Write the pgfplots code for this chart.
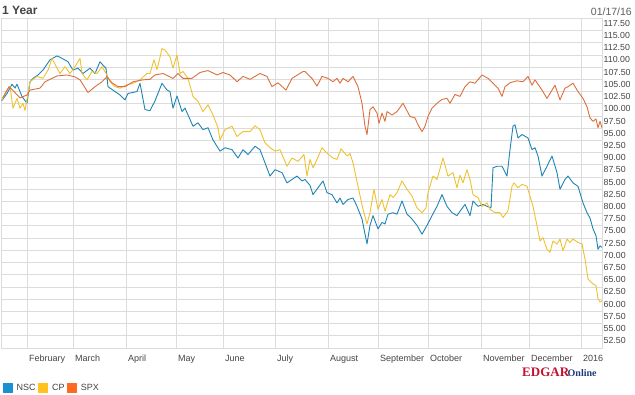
\documentclass[border=0pt]{standalone}
\usepackage{fontspec}
\setmainfont{Liberation Sans}
\newfontfamily\logofont{Liberation Serif}
\usepackage{pgfplots}
\pgfplotsset{compat=1.18}
\definecolor{nsc}{HTML}{1E85B5}
\definecolor{cp}{HTML}{F0C12E}
\definecolor{spx}{HTML}{DC6E3C}
\definecolor{nscsq}{HTML}{1A8FD1}
\definecolor{cpsq}{HTML}{FFC21E}
\definecolor{spxsq}{HTML}{FF6A22}
\definecolor{gridgray}{HTML}{DCDCDC}
\definecolor{txtgray}{HTML}{444444}
\definecolor{edgarred}{HTML}{C41230}
\definecolor{edgarblue}{HTML}{1D3C78}
\begin{document}
\begin{tikzpicture}
\useasboundingbox (0pt,0pt) rectangle (635pt,395pt);
\fill[white] (0pt,0pt) rectangle (635pt,395pt);
\node[anchor=base west, inner sep=0pt, text=txtgray, font=\bfseries\fontsize{12}{12}\selectfont] at (2pt,380pt) {1 Year};
\node[anchor=base east, inner sep=0pt, text=txtgray!85, font=\fontsize{10.5}{10.5}\selectfont] at (632pt,379pt) {01/17/16};
\node[anchor=base west, inner sep=0pt, text=edgarred, font=\logofont\bfseries\fontsize{13}{13}\selectfont] at (522pt,18pt) {EDGAR};
\node[anchor=base west, inner sep=0pt, text=edgarblue, font=\logofont\bfseries\fontsize{10}{10}\selectfont] at (567.5pt,18pt) {Online};
\begin{axis}[
  at={(1.5pt,47pt)}, anchor=south west,
  scale only axis, width=600.5pt, height=329.7pt,
  xmin=1.5, xmax=602, ymin=50, ymax=117.5,
  axis line style={draw=gridgray, line width=0.8pt},
  grid=major, major grid style={draw=gridgray, line width=0.8pt},
  major tick length=0pt,
  xtick={27,73,126,176,223,275,328,378,428,481,529,581},
  xticklabels={February,March,April,May,June,July,August,September,October,November,December,2016},
  xticklabel style={anchor=base west, inner sep=0pt, xshift=2pt, yshift=-14pt, text=txtgray, font=\fontsize{9}{9}\selectfont},
  ytick={52.5,55,...,117.5},
  yticklabel pos=right,
  yticklabel style={anchor=west, inner sep=0pt, xshift=1.5pt, yshift=-5pt, text=txtgray, font=\fontsize{8.8}{9}\selectfont,
    /pgf/number format/.cd, fixed, fixed zerofill, precision=2, assume math mode=true},
  legend columns=-1,
  legend style={at={(0,0)}, anchor=north west, xshift=1.2pt, yshift=-35pt, draw=none, fill=none,
    inner sep=0pt, outer sep=0pt, font=\fontsize{9}{9}\selectfont\color{txtgray},
    nodes={inner xsep=2.5pt, inner ysep=0pt},
    /tikz/every odd column/.append style={column sep=1.5pt}},
  every axis plot/.append style={line width=0.9pt, line join=round},
]
\addplot[nsc, legend image code/.code={\fill[nscsq] (0pt,-4.5pt) rectangle (9pt,4.5pt);}] coordinates {
(1.7,100.6)(7,102.1)(12,104)(15,103.2)(17,104)(22,101.5)(27,100.1)(30,104.5)(33,105.2)(38,105.9)
(43,106.9)(50,109)(57,109.8)(62,109.3)(68,108.6)(73,106.9)(78,107.3)(83,106.2)(90,107.3)(95,106.2)
(100,108.6)(103,107.9)(106,107.3)(108,103.5)(115,102.5)(120,101.8)(125,100.8)(128,102.1)(137,102.5)(140,104.2)
(145,98.8)(150,98.6)(155,100.6)(162,104.2)(167,102.8)(170,102.5)(173,99.1)(177,101.6)(182,98.4)(185,99.1)
(193,95.4)(198,96.1)(203,94.7)(208,95.1)(213,92.6)(220,90.3)(225,91)(232,90.6)(238,88.9)(243,90.6)
(248,89.6)(255,91.3)(260,90.6)(265,87.9)(270,85.2)(275,86.5)(282,85.9)(287,83.8)(297,85.2)(302,84.2)
(305,84.5)(310,83.3)(313,81.4)(318,82.8)(323,84.2)(327,81.8)(332,81.4)(337,79.7)(340,80.7)(343,79.4)
(348,80.4)(353,80.7)(357,79)(362,76.4)(367,71.3)(370,75.1)(373,77.1)(378,74.4)(382,75.7)(385,75.4)
(388,77.4)(393,77.7)(397,77.4)(402,80.1)(407,77.4)(412,76.4)(417,75.1)(422,73.3)(427,75.1)(432,77.1)
(437,79)(442,81.4)(447,79)(452,77.7)(457,77.1)(460,78)(465,79.4)(470,77.1)(473,80.1)(478,79)
(483,79.4)(487,79)(491,78.7)(493,86.9)(497,87.2)(502,87.2)(507,85.2)(510,90.6)(513,95.4)(515,95.7)
(518,93)(522,93.7)(528,93)(532,90.6)(535,91)(538,89.3)(542,85.2)(547,87.2)(552,89.3)(557,85.9)
(560,82.5)(565,84.5)(568,85.2)(573,83.8)(578,83.1)(583,79.7)(587,77.7)(590,76.6)(593,74.4)(596,73)
(598,70.2)(600,70.9)(602,70.6)
};
\addlegendentry{NSC}
\addplot[cp, legend image code/.code={\fill[cpsq] (0pt,-4.5pt) rectangle (9pt,4.5pt);}] coordinates {
(2,100.8)(7,102.8)(10,103.5)(13,99.1)(17,101.1)(20,99.1)(23,100.1)(25,98.6)(30,104.5)(37,105.6)
(43,105.2)(48,106.9)(52,109.3)(57,107.3)(60,106.2)(65,107.6)(70,106.2)(75,107.6)(80,109.3)(82,106.2)
(87,104.9)(92,106.6)(97,106.2)(102,107.6)(107,105.9)(110,104.5)(115,103.5)(120,103.2)(127,103.9)(133,104.2)
(140,104.9)(147,106.2)(150,106.2)(154,109)(157,107)(160,109.5)(162,111.3)(165,111)(170,109.6)(173,107.3)
(177,110)(180,106.2)(183,106.6)(188,105.2)(193,101.5)(198,100.5)(203,98.4)(208,99.8)(213,97.7)(218,95.1)
(220,92.6)(225,94.7)(232,95.4)(237,93.3)(243,94.3)(250,94.3)(255,95.5)(260,94.7)(265,92)(270,91)
(275,90.3)(280,90.6)(287,87.2)(292,88.9)(298,88.2)(304,89.6)(307,85.2)(310,88.6)(313,86.9)(317,88.6)
(322,91)(327,89.9)(333,88.9)(337,88.6)(341,90.8)(347,89.3)(350,89.8)(353,87.9)(358,83.1)(363,78.4)
(367,75.4)(370,77.7)(374,82.5)(378,78.4)(382,80.4)(385,78)(390,81.4)(393,80.8)(397,81.8)(402,84.2)
(407,82.5)(412,81.1)(417,78.7)(422,77.7)(426,78.7)(428,81.8)(433,85.2)(437,84.5)(443,88.9)(448,85.2)
(453,85.9)(457,82.8)(460,85.4)(463,83.8)(467,86.5)(470,84.5)(473,81.4)(478,80.8)(482,79)(487,79.7)
(490,78.4)(495,77.7)(500,77.7)(503,76.7)(508,78.1)(512,83.1)(514,83.8)(518,82.8)(522,83.5)(527,83.1)
(530,81.1)(533,79)(537,75)(540,71.9)(543,72.6)(547,70.2)(550,69.6)(553,71.9)(557,71.3)(560,72.3)
(563,69.9)(567,72.3)(570,71.6)(573,72.3)(578,71.6)(582,71.3)(585,68.2)(588,64.1)(593,63.1)(596,62.8)
(598,60.1)(600,59.4)(602,59.7)
};
\addlegendentry{CP}
\addplot[spx, legend image code/.code={\fill[spxsq] (0pt,-4.5pt) rectangle (9pt,4.5pt);}] coordinates {
(2.7,101.2)(9,103.5)(14,102.5)(20,101.2)(27,101.8)(30,102.8)(40,103.2)(45,104.5)(50,105)(57,105.7)
(67,105.9)(75,105.5)(80,104.9)(88,102.3)(95,103.5)(102,104.5)(107,105.5)(112,104.3)(118,103.5)(125,103.5)
(133,104.5)(143,104.9)(150,105)(155,105.9)(163,106.2)(173,105.2)(178,106.2)(183,105.2)(192,105.2)(200,106.4)
(208,106.8)(217,105.9)(223,106.4)(230,105.9)(237,104.5)(243,105.6)(250,105)(260,106.2)(267,105.6)(272,103.5)
(278,104.3)(286,102.8)(292,105.2)(303,106.6)(305,106.6)(312,105.2)(317,103.6)(322,105.6)(328,105.2)(333,104.5)
(337,105.2)(340,104.2)(343,105.2)(348,104.5)(353,105.6)(358,103.5)(362,100.1)(365,95.4)(367,93.7)(370,98.8)
(373,99.4)(377,98.1)(379,96)(382,98.1)(385,96.4)(387,98.4)(392,97.7)(397,98.4)(403,100.1)(410,97.4)
(415,97.1)(418,95.7)(422,94.3)(425,95.4)(428,97.4)(432,99.1)(437,100.1)(442,100.9)(447,101.1)(450,100.1)
(455,101.9)(460,101.5)(465,103.5)(470,104.5)(475,104.2)(482,105.9)(488,105.2)(495,103.8)(498,103.2)(502,101.5)
(505,103.5)(510,104.3)(517,104.7)(523,104.5)(528,105.6)(532,103.8)(535,104.9)(542,102.8)(547,101.1)(550,102.1)
(555,103.8)(560,100.8)(565,103.2)(568,103.5)(573,104.2)(578,102.5)(583,101.1)(587,99.4)(590,97.1)(593,96.4)
(596,96.9)(598,95.1)(600,96.4)(602,95.1)
};
\addlegendentry{SPX}
\end{axis}
\end{tikzpicture}
\end{document}
